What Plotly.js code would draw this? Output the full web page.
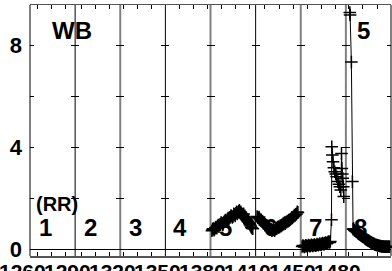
<!DOCTYPE html>
<html><head><meta charset="utf-8">
<script src="https://cdn.plot.ly/plotly-3.0.1.min.js"></script>
<style>html,body{margin:0;padding:0;background:#fff;}#chart{width:392px;height:271px;}</style>
</head><body><div id="chart"></div>
<script>
// ---- data ----
const panelStarts = [1260, 1290, 1320, 1350, 1380, 1410, 1450, 1480];
const panelLabels = ['1260', '1290', '1320', '1350', '1380', '1410', '1450', '1480'];
const panelNames = ['1', '2', '3', '4', '5', '6', '7', '8'];
const yTickVals = [0, 2, 4, 6, 8];
const yTickText = ['0', '', '4', '', '8'];

const p5x = [1381,1381.5,1382,1382.5,1383,1383.5,1384,1384.5,1385,1385.5,1386,1386.5,1387,1387.5,1388,1388.5,1389,1389.5,1390,1390.5,1391,1391.5,1392,1392.5,1393,1393.5,1394,1394.5,1395,1395.5,1396,1396.5,1397,1397.5,1398,1398.5,1399,1399.5,1400,1400.5,1401,1401.5,1402,1402.5,1403,1403.5,1404,1404.5,1405,1405.5,1406,1406.5,1407,1407.5,1408,1408.5,1409,1409.5,1410];
const p5y = [0.72,0.78,0.80,0.74,0.78,0.84,0.86,0.82,0.90,0.94,0.88,0.95,0.97,1.04,1.02,0.96,0.98,1.06,1.08,1.14,1.12,1.08,1.18,1.22,1.16,1.24,1.25,1.32,1.30,1.24,1.28,1.38,1.36,1.30,1.40,1.46,1.38,1.44,1.48,1.52,1.42,1.46,1.40,1.36,1.33,1.38,1.28,1.24,1.20,1.16,1.12,1.08,1.05,1.00,0.95,0.90,0.85,0.82,0.80];

const p6x = [1411,1411.5,1412,1412.5,1413,1413.5,1414,1414.5,1415,1415.5,1416,1416.5,1417,1417.5,1418,1418.5,1419,1419.5,1420,1420.5,1421,1421.5,1422,1422.5,1423,1423.5,1424,1424.5,1425,1425.5,1426,1426.5,1427,1427.5,1428,1428.5,1429,1429.5,1430,1430.5,1431,1431.5,1432,1432.5,1433,1433.5,1434,1434.5,1435,1435.5,1436,1436.5,1437,1437.5,1438,1438.5,1439,1439.5,1440];
const p6y = [1.28,1.24,1.22,1.26,1.18,1.14,1.15,1.10,1.08,1.02,1.00,0.94,0.96,0.90,0.90,0.86,0.84,0.80,0.80,0.76,0.78,0.72,0.74,0.78,0.76,0.72,0.78,0.82,0.80,0.86,0.84,0.88,0.86,0.92,0.90,0.94,0.95,1.00,0.98,1.04,1.00,1.06,1.05,1.10,1.08,1.14,1.12,1.16,1.18,1.22,1.22,1.26,1.28,1.34,1.32,1.36,1.38,1.46,1.44];

const p7x = [1451,1451.5,1452,1452.5,1453,1453.5,1454,1454.5,1455,1455.5,1456,1456.5,1457,1457.5,1458,1458.5,1459,1459.5,1460,1460.5,1461,1461.5,1462,1462.5,1463,1463.5,1464,1464.5,1465,1465.5,1466,1466.5,1467,1467.5,1468,1468.5,1469,1469.5,1470,1470.5,1471,1471.8,1472.0,1472.4,1472.9,1473.5,1474.1,1474.8,1475.5,1476.3,1477.0,1477.7,1478.4,1478.9,1479.1,1479.4,1479.8,1480.1,1480.5];
const p7y = [0.10,0.14,0.12,0.08,0.10,0.15,0.13,0.10,0.12,0.16,0.14,0.11,0.13,0.17,0.15,0.12,0.14,0.18,0.16,0.13,0.15,0.19,0.17,0.15,0.18,0.21,0.18,0.16,0.20,0.23,0.20,0.18,0.22,0.25,0.23,0.21,0.25,0.28,0.28,0.26,0.30,1.15,4.02,3.70,3.43,3.20,3.04,2.95,2.84,2.65,2.55,2.45,2.32,3.76,3.17,2.95,2.78,2.45,2.06];

const p8x = [1482.8,1483.0,1483.9,1484.6,1485.1,1485.5,1486,1486.5,1487,1487.5,1488,1488.5,1489,1489.5,1490,1490.5,1491,1491.5,1492,1492.5,1493,1493.5,1494,1494.5,1495,1495.5,1496,1496.5,1497,1497.5,1498,1498.5,1499,1499.5,1500,1500.5,1501,1501.5,1502,1502.5,1503,1503.5,1504,1504.5,1505,1505.5,1506,1506.5,1507,1507.5,1508,1508.5,1509,1509.5,1510,1510.5,1511];
const p8y = [9.3,9.2,7.35,2.65,0.78,0.80,0.74,0.72,0.70,0.68,0.66,0.62,0.60,0.58,0.56,0.54,0.52,0.50,0.48,0.46,0.45,0.42,0.40,0.38,0.36,0.34,0.33,0.31,0.29,0.27,0.26,0.24,0.22,0.21,0.20,0.18,0.17,0.16,0.16,0.15,0.14,0.13,0.12,0.12,0.11,0.10,0.10,0.10,0.10,0.09,0.09,0.10,0.09,0.09,0.09,0.10,0.09];

// ---- layout config ----
const panelWidth = 32;
const tickOffsets = [5.2, 4.3, 2.1, 0.2, 7.6, 6.6, 4.7, 2.1];
const yRange = [-0.275, 9.595];
const bold = {family: 'Liberation Sans, Arial, sans-serif', weight: 700, color: '#000'};

const seriesByPanel = {5: [p5x, p5y], 6: [p6x, p6y], 7: [p7x, p7y], 8: [p8x, p8y]};

const traces = [];
const layout = {
  width: 392, height: 271,
  margin: {l: 30, r: 1, t: 5, b: 15, pad: 0},
  paper_bgcolor: '#fff', plot_bgcolor: '#fff',
  showlegend: false,
  shapes: [], annotations: []
};

for (let k = 1; k <= 8; k++) {
  const s = panelStarts[k - 1];
  const xn = k === 1 ? 'xaxis' : 'xaxis' + k;
  const yn = k === 1 ? 'yaxis' : 'yaxis' + k;
  const xr = k === 1 ? 'x' : 'x' + k;
  const yr = k === 1 ? 'y' : 'y' + k;
  const tv = [s];
  for (let t = s + tickOffsets[k - 1]; t < s + panelWidth; t += 10) { tv.push(t); }
  layout[xn] = {
    domain: [(k - 1) / 8, k / 8], range: [s, s + panelWidth], anchor: yr,
    showline: true, linecolor: '#555', linewidth: 1.5, mirror: 'all',
    ticks: 'inside', ticklen: 4, tickcolor: '#000', tickwidth: 1,
    tickmode: 'array', tickvals: tv, showticklabels: false,
    showgrid: false, zeroline: false, fixedrange: true
  };
  layout[yn] = {
    domain: [0, 1], range: yRange, anchor: xr,
    showline: false, mirror: 'ticks',
    ticks: 'inside', ticklen: 4, tickcolor: '#000', tickwidth: 1,
    tickmode: 'array', tickvals: yTickVals, ticktext: yTickText,
    showticklabels: k === 1, tickfont: Object.assign({size: 22}, bold), ticklabelstandoff: 7,
    showgrid: false, zeroline: true, zerolinecolor: '#000', zerolinewidth: 1, fixedrange: true
  };
  const d = seriesByPanel[k] || [[], []];
  traces.push({
    type: 'scatter', mode: 'lines+markers', x: d[0], y: d[1], xaxis: xr, yaxis: yr,
    line: {color: '#000', width: 1},
    marker: {symbol: 'cross-thin', size: 9, color: '#000', line: {color: '#000', width: 1.5}},
    cliponaxis: false, hoverinfo: 'skip'
  });
  // x label for the panel start, placed on the panel's own axis
  layout.annotations.push({
    xref: xr, yref: 'paper', x: s, y: 0, yanchor: 'top', xanchor: 'center',
    xshift: -8, yshift: -2, text: panelLabels[k - 1], showarrow: false,
    font: Object.assign({size: 21}, bold)
  });
  // panel number
  layout.annotations.push({
    xref: 'paper', yref: 'paper', x: (k - 1) / 8 + 0.0416, y: 0.115,
    text: panelNames[k - 1], showarrow: false, xanchor: 'center', yanchor: 'middle',
    font: Object.assign({size: 24}, bold)
  });
}

// vertical panel boundary lines
const lineColors = ['#808080', '#000', '#808080', '#000', '#808080', '#000', '#808080', '#808080', '#808080'];
const lineWidths = [2, 1, 2, 1, 2, 1, 2, 2, 2];
for (let i = 0; i <= 8; i++) {
  layout.shapes.push({type: 'line', xref: 'paper', yref: 'paper', x0: i / 8, x1: i / 8, y0: 0, y1: 1,
    line: {color: lineColors[i], width: lineWidths[i]}, layer: 'below'});
}

layout.annotations.push(
  {xref: 'paper', yref: 'paper', x: 0.1177, y: 0.900, text: 'WB', showarrow: false, xanchor: 'center', yanchor: 'middle', font: Object.assign({size: 24}, bold)},
  {xref: 'paper', yref: 'paper', x: 0.074, y: 0.208, text: '(RR)', showarrow: false, xanchor: 'center', yanchor: 'middle', font: Object.assign({size: 20}, bold)},
  {xref: 'paper', yref: 'paper', x: 0.925, y: 0.900, text: '5', showarrow: false, xanchor: 'center', yanchor: 'middle', font: Object.assign({size: 24}, bold)}
);

Plotly.newPlot('chart', traces, layout, {staticPlot: true, displayModeBar: false});
</script>
</body></html>
